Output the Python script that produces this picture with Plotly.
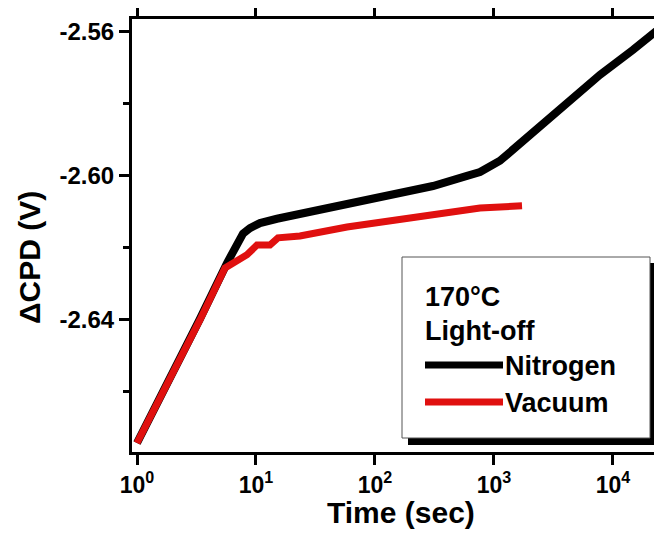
import plotly.graph_objects as go

# Data
n2_time = [1, 1.56, 2.30, 3.38, 5.71, 6.66, 7.78, 8.9, 10.8, 15.0, 34.5, 58.2, 110,
           162, 209, 307, 593, 763, 1122, 2128, 4105, 7780, 14720, 24800, 28000]
n2_cpd = [-2.6742, -2.6619, -2.6511, -2.6397, -2.6242, -2.6197, -2.6160, -2.6145,
          -2.6131, -2.6119, -2.6094, -2.6081, -2.6061, -2.6052, -2.6045, -2.6028,
          -2.6000, -2.5989, -2.5958, -2.5881, -2.5800, -2.5719, -2.5650, -2.5589,
          -2.5575]

vac_time = [1, 1.56, 2.30, 3.38, 5.49, 6.41, 8.40, 10.2, 13.1, 15.3, 23.4, 58.2, 110,
            209, 427, 763, 1720]
vac_cpd = [-2.6742, -2.6619, -2.6511, -2.6400, -2.6256, -2.6242, -2.6219, -2.6192,
           -2.6192, -2.6172, -2.6167, -2.6142, -2.6128, -2.6114, -2.6100, -2.6089,
           -2.6083]

x_tickvals = [1, 10, 100, 1000, 10000]
x_ticktext = ["10<sup>0</sup>", "10<sup>1</sup>", "10<sup>2</sup>", "10<sup>3</sup>", "10<sup>4</sup>"]
x_minor = [m * 10 ** k for k in range(0, 5) for m in range(2, 10)]
y_tickvals = [-2.56, -2.60, -2.64]
y_ticktext = ["-2.56", "-2.60", "-2.64"]
y_minor = [-2.58, -2.62, -2.66]

FONT = "Liberation Sans"
RED = "#e0100f"
X_RANGE = [-0.042, 4.412]
Y_RANGE = [-2.6767, -2.5564]

fig = go.Figure()
fig.add_trace(go.Scatter(x=n2_time, y=n2_cpd, mode="lines", name="Nitrogen",
                         line=dict(color="black", width=8), showlegend=False))
fig.add_trace(go.Scatter(x=vac_time, y=vac_cpd, mode="lines", name="Vacuum",
                         line=dict(color=RED, width=7), showlegend=False))

# The page body has an 8 px margin, so the figure is 8 px smaller on each axis
OFF = 8
W, H = 662 - OFF, 550 - OFF
L, T, R, B = 132 - OFF, 19 - OFF, 0, 550 - 452
PW, PH = W - L - R, H - T - B

fig.update_layout(
    width=W, height=H,
    margin=dict(l=L, r=R, t=T, b=B, autoexpand=False),
    plot_bgcolor="white", paper_bgcolor="white",
    font=dict(family=FONT, color="black"),
    showlegend=False,
)

fig.update_layout(
    xaxis=dict(
        type="log", range=X_RANGE, automargin=False,
        tickmode="array", tickvals=x_tickvals, ticktext=x_ticktext,
        tickfont=dict(family=FONT, size=23, weight="bold"),
        ticks="outside", ticklen=10, tickwidth=3, tickcolor="black",
        showline=True, linecolor="black", linewidth=3, mirror="ticks",
        showgrid=False, zeroline=False,
    ),
    xaxis2=dict(
        type="log", range=X_RANGE, overlaying="x", anchor="y", side="bottom",
        automargin=False, tickmode="array", tickvals=x_minor, showticklabels=False,
        ticks="outside", ticklen=5, tickwidth=2.5, tickcolor="black",
        showline=False, showgrid=False, zeroline=False,
    ),
    xaxis3=dict(
        type="log", range=X_RANGE, overlaying="x", anchor="y", side="top",
        automargin=False, tickmode="array", tickvals=x_minor, showticklabels=False,
        ticks="outside", ticklen=5, tickwidth=2.5, tickcolor="black",
        showline=False, showgrid=False, zeroline=False,
    ),
    yaxis=dict(
        range=Y_RANGE, automargin=False,
        tickmode="array", tickvals=y_tickvals, ticktext=y_ticktext,
        tickfont=dict(family=FONT, size=24, weight="bold"),
        ticks="outside", ticklen=10, tickwidth=3, tickcolor="black",
        minor=dict(tickmode="array", tickvals=y_minor, ticks="outside", ticklen=6,
                   tickwidth=3, tickcolor="black", showgrid=False),
        showline=True, linecolor="black", linewidth=3, mirror="ticks",
        showgrid=False, zeroline=False,
    ),
)

# helpers: page pixel -> paper fraction
def px(x):
    return (x - OFF - L) / PW

def py(y):
    return 1 - (y - OFF - T) / PH

title_font = dict(family=FONT, size=30, color="black", weight="bold")
fig.add_annotation(text="Time (sec)", xref="paper", yref="paper", x=px(401), y=py(513),
                   xanchor="center", yanchor="middle", showarrow=False, font=title_font)
fig.add_annotation(text="ΔCPD (V)", xref="paper", yref="paper", x=px(29), y=py(258),
                   xanchor="center", yanchor="middle", showarrow=False, textangle=-90,
                   font=title_font)

# Legend box with shadow
shapes = [
    dict(type="rect", xref="paper", yref="paper", x0=px(408), x1=px(657), y0=py(445), y1=py(263),
         fillcolor="black", line=dict(width=0)),
    dict(type="rect", xref="paper", yref="paper", x0=px(402), x1=px(650), y0=py(438), y1=py(257),
         fillcolor="white", line=dict(color="#555555", width=1)),
    dict(type="line", xref="paper", yref="paper", x0=px(425), x1=px(503), y0=py(365), y1=py(365),
         line=dict(color="black", width=7)),
    dict(type="line", xref="paper", yref="paper", x0=px(425), x1=px(503), y0=py(402), y1=py(402),
         line=dict(color=RED, width=7)),
]
fig.update_layout(shapes=shapes)

ann_font = dict(family=FONT, size=27, color="black", weight="bold")
for text, x, y in [("170°C", 423, 297), ("Light-off", 423, 331), ("Nitrogen", 503, 366), ("Vacuum", 503, 403)]:
    fig.add_annotation(text=text, xref="paper", yref="paper", x=px(x), y=py(y),
                       xanchor="left", yanchor="middle", showarrow=False, font=ann_font)

fig.write_html("out.html")
